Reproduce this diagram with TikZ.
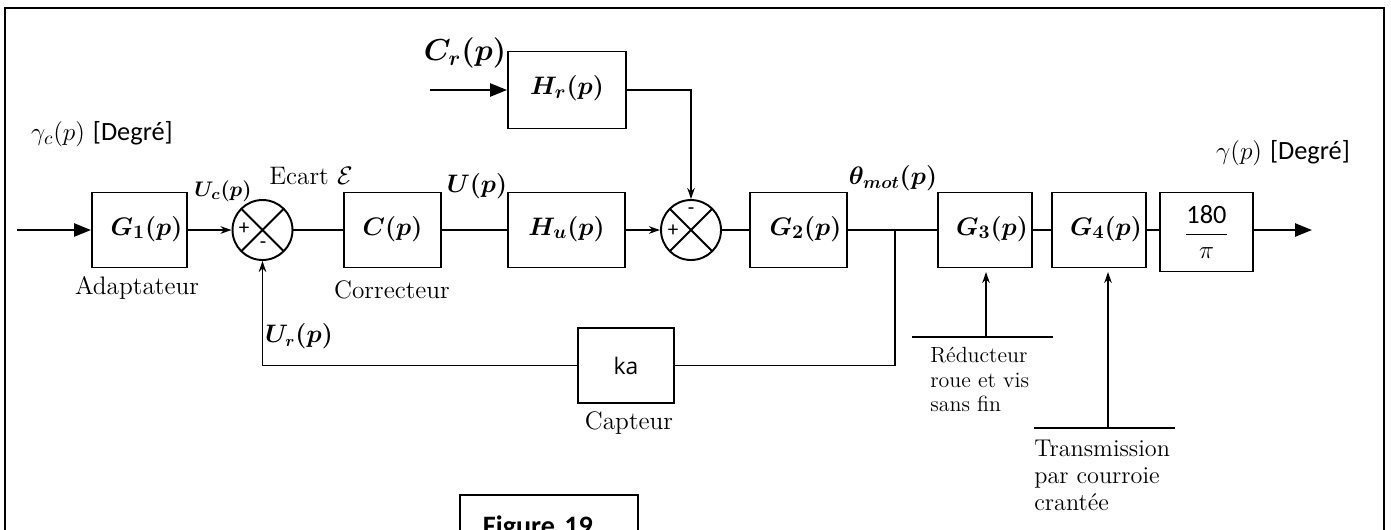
\documentclass[tikz,border=0pt]{standalone}
\usepackage{amsmath}
\usepackage{fontspec}
\usetikzlibrary{arrows.meta}
\newfontfamily\calib{Carlito}
\newfontfamily\osans{Open Sans}
\newcommand\blktxt[1]{\raisebox{0.18cm}{$#1$}}

\begin{document}
\begin{tikzpicture}[x=0.02cm, y=-0.02cm,
          blk/.style={rectangle, draw, line width=1.1pt, inner sep=0pt,
                      minimum width=1.9cm, minimum height=1.5cm,
                      font=\fontsize{15.2}{17}\selectfont\boldmath},
          sumn/.style={circle, draw, line width=1.1pt, minimum size=1.2cm, inner sep=0pt,
                       path picture={\draw[line width=1.1pt]
                         (path picture bounding box.north west) -- (path picture bounding box.south east)
                         (path picture bounding box.north east) -- (path picture bounding box.south west);}},
          sgn/.style={inner sep=0pt, font=\calib\fontsize{12}{12}\selectfont},
          lnk/.style={line width=0.9pt},
          arr/.style={lnk, -{Stealth[length=0.22cm, width=0.15cm]}},
          bigarr/.style={line width=1.4pt, -{Triangle[length=0.34cm, width=0.26cm]}},
          lbl/.style={inner sep=0pt, font=\fontsize{14}{16}\selectfont\boldmath},
          txt/.style={inner sep=0pt, font=\fontsize{14.4}{16}\selectfont}
        ]
        \useasboundingbox (0,0) rectangle (1391,529);
        \clip (0,0) rectangle (1391,529);
        \draw[line width=1.6pt] (5,560) -- (5,8) -- (1384,8) -- (1384,560);

        % main chain
        \node[blk] (g1) at (139.5,230) {\blktxt{\kern0.28cm G_1(p)}};
        \node[sumn] (s1) at (262.5,230) {};
        \node[blk, minimum width=1.94cm] (cor) at (392.5,230) {\blktxt{C(p)}};
        \node[blk, minimum width=2.34cm] (hu) at (566.5,230) {\blktxt{H_u(p)}};
        \node[blk, minimum width=2.36cm, minimum height=1.54cm]
              (hr) at (567,90) {\blktxt{H_r(p)}};
        \node[sumn] (s2) at (691,230) {};
        \node[blk, minimum width=1.94cm] (g2) at (798.5,230) {\blktxt{\kern0.28cm G_2(p)}};
        \node[blk, minimum width=1.88cm] (g3) at (985,230) {\blktxt{\kern0.28cm G_3(p)}};
        \node[blk, minimum width=1.88cm] (g4) at (1099,230) {\blktxt{\kern0.28cm G_4(p)}};
        \node[blk, minimum width=1.86cm, minimum height=1.58cm, font=\fontsize{15}{17}\selectfont]
              (deg) at (1206.5,232) {$\dfrac{\text{\calib 180}}{\pi}$};
        \node[blk, minimum width=1.92cm, font=\osans\fontsize{13}{15}\selectfont]
              (ka) at (626,365.5) {ka};

        % signs
        \node[sgn] (p1) at (244,229) {+};
        \node[sgn] (m1) at (263,245) {-};
        \node[sgn] (p2) at (673,231) {+};
        \node[sgn] (m2) at (691,211) {-};

        % labels
        \node[inner sep=0pt, font=\fontsize{15}{17}\selectfont]
              (gc) at (102,134) {$\gamma_c(p)$ {\calib [Degré]}};
        \node[lbl, font=\fontsize{13}{15}\selectfont\boldmath] (uc) at (223,191) {$U_c(p)$};
        \node[txt] (ec) at (311,176) {Ecart $\mathcal{E}$};
        \node[txt] (adp) at (137,288) {Adaptateur};
        \node[txt] (crr) at (392,290) {Correcteur};
        \node[lbl] (up) at (477,186) {$U(p)$};
        \node[lbl, font=\fontsize{18.5}{21}\selectfont\boldmath] (cr) at (465,53) {$C_r(p)$};
        \node[lbl, font=\fontsize{14.7}{16}\selectfont\boldmath] (th) at (893,178) {$\theta_{mot}(p)$};
        \node[inner sep=0pt, font=\fontsize{15}{17}\selectfont]
              (gm) at (1283,153) {$\gamma(p)$ {\calib [Degré]}};
        \node[lbl, font=\fontsize{13.5}{15}\selectfont\boldmath] (ur) at (299,336) {$U_r(p)$};
        \node[txt] (cap) at (629,423) {Capteur};
        \node[txt, anchor=north west, align=left, font=\fontsize{12.5}{14}\selectfont]
              (red) at (930,347) {Réducteur\\roue et vis\\sans fin};
        \node[txt, anchor=north west, align=left, font=\fontsize{13.8}{15.2}\selectfont]
              (trm) at (1034,440) {Transmission\\par courroie\\crantée};
        \node[draw, line width=1.1pt, anchor=north west, inner xsep=0.46cm, inner ysep=0.42cm,
              text width=2.64cm, align=left, font=\calib\bfseries\fontsize{16}{18}\selectfont]
              (fig) at (459,494) {Figure 19};

        % free ends
        \coordinate (in) at (17,230);
        \coordinate (crin) at (430,90);
        \coordinate (out) at (1312,230);
        \coordinate (br) at (895,230);
        \coordinate (rl) at (912,337);
        \coordinate (rr) at (1053,337);
        \coordinate (rm) at (986,337);
        \coordinate (tl) at (1034,428);
        \coordinate (tr) at (1175,428);
        \coordinate (tm) at (1108,428);

        % connectors
        \draw[bigarr] (in) -- (g1);
        \draw[arr] (g1) -- (s1);
        \draw[lnk] (s1) -- (cor);
        \draw[lnk] (cor) -- (hu);
        \draw[arr] (hu) -- (s2);
        \draw[bigarr] (crin) -- (hr);
        \draw[arr] (hr.east) -| (s2.north);
        \draw[lnk] (s2) -- (g2);
        \draw[lnk] (g2) -- (g3);
        \draw[lnk] (g3) -- (g4);
        \draw[lnk] (g4.east) -- (g4.east -| deg.west);
        \draw[bigarr] (deg.east |- out) -- (out);
        \draw[lnk] (br) |- (ka.east);
        \draw[arr] (ka.west) -| (s1.south);
        \draw[lnk] (rl) -- (rr);
        \draw[arr, shorten >=2pt] (rm) -- (rm |- g3.south);
        \draw[lnk] (tl) -- (tr);
        \draw[arr, shorten >=2pt] (tm) -- (tm |- g4.south);
      \end{tikzpicture}
\end{document}
